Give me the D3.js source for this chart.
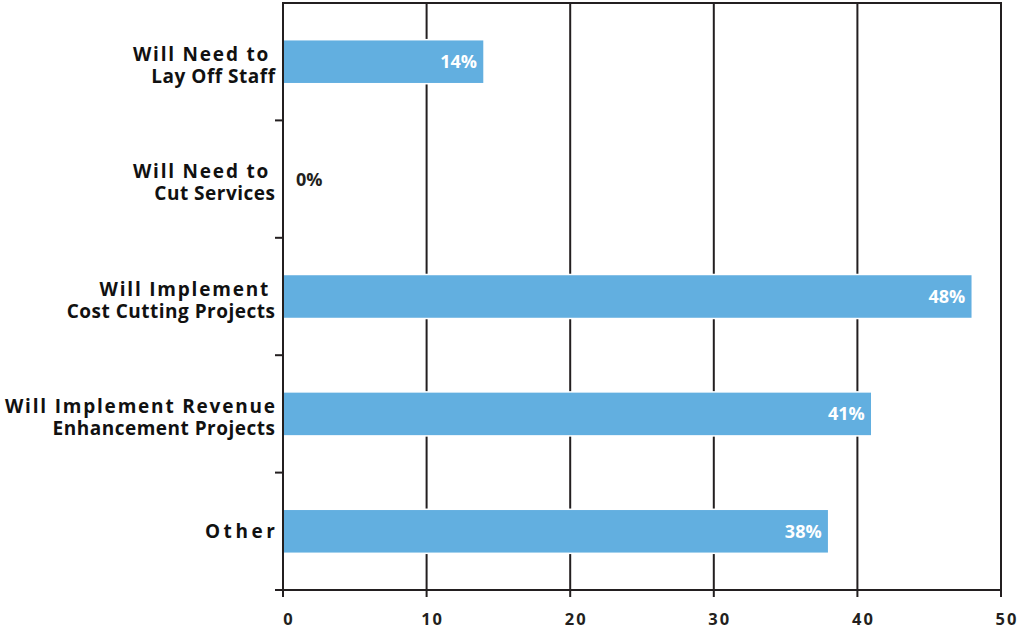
<!DOCTYPE html>
<html>
<head>
<meta charset="utf-8">
<script src="https://cdn.jsdelivr.net/npm/d3@7"></script>
<style>
  html, body { margin: 0; padding: 0; background: #fff; }
  svg { display: block; }
  text { font-family: "Open Sans", "Liberation Sans", sans-serif; font-weight: 700; }
</style>
</head>
<body>
<svg id="chart" width="1022" height="630"></svg>
<script>
// Survey responses (percent of respondents)
const categoryLines = [
  ["Will Need to ", "Lay Off Staff"],
  ["Will Need to ", "Cut Services"],
  ["Will Implement ", "Cost Cutting Projects"],
  ["Will Implement Revenue", "Enhancement Projects"],
  ["Other"]
];
const categories = categoryLines.map(l => l.join(" ").replace(/\s+/g, " ").trim());
const values = [14, 0, 48, 41, 38];
const xTickValues = [0, 10, 20, 30, 40, 50];

const W = 1022, H = 630;
const margin = { top: 3, right: 21, bottom: 40, left: 283 };
const ink = "#231f20";
const barColor = "#62afe0";

const svg = d3.select("#chart");

const x = d3.scaleLinear().domain([0, 50]).range([margin.left, W - margin.right]);
const y = d3.scaleBand().domain(categories).range([margin.top, H - margin.bottom]).padding(0);
const barH = y.bandwidth() * 0.375;

// vertical gridlines
svg.append("g")
  .selectAll("line")
  .data(xTickValues.filter(d => d > 0))
  .join("line")
  .attr("x1", d => x(d)).attr("x2", d => x(d))
  .attr("y1", margin.top).attr("y2", H - margin.bottom)
  .attr("stroke", ink).attr("stroke-width", 2);

// top frame line
svg.append("line")
  .attr("x1", margin.left - 1).attr("x2", W - margin.right + 1)
  .attr("y1", margin.top).attr("y2", margin.top)
  .attr("stroke", ink).attr("stroke-width", 2);

// bars
svg.append("g")
  .selectAll("rect")
  .data(categories.map((c, i) => ({ c, v: values[i] })))
  .join("rect")
  .attr("x", x(0))
  .attr("y", d => y(d.c) + (y.bandwidth() - barH) / 2)
  .attr("width", d => Math.max(0, x(d.v) - x(0)))
  .attr("height", barH)
  .attr("fill", barColor)
  .attr("stroke", d => d.v > 0 ? "#fff" : "none")
  .attr("stroke-width", 1.5);

// value labels
svg.append("g")
  .selectAll("text")
  .data(categories.map((c, i) => ({ c, v: values[i] })))
  .join("text")
  .attr("x", d => d.v > 0 ? x(d.v) - 7 : x(0) + 13)
  .attr("y", d => y(d.c) + y.bandwidth() / 2)
  .attr("dy", "0.36em")
  .attr("text-anchor", d => d.v > 0 ? "end" : "start")
  .attr("fill", d => d.v > 0 ? "#fff" : ink)
  .style("font-size", "18px")
  .text(d => d.v + "%");

// left axis
const yAxis = svg.append("g");
yAxis.append("line")
  .attr("x1", x(0)).attr("x2", x(0))
  .attr("y1", margin.top - 1).attr("y2", H - margin.bottom)
  .attr("stroke", ink).attr("stroke-width", 2);
yAxis.selectAll("line.tick")
  .data(categories)
  .join("line")
  .attr("class", "tick")
  .attr("x1", x(0) - 8).attr("x2", x(0))
  .attr("y1", d => y(d) + y.bandwidth()).attr("y2", d => y(d) + y.bandwidth())
  .attr("stroke", ink).attr("stroke-width", 2);

// category labels
const catG = svg.append("g");
categoryLines.forEach((lines, i) => {
  const cy = y(categories[i]) + y.bandwidth() / 2;
  const t = catG.append("text")
    .attr("text-anchor", "end")
    .attr("fill", "#111")
    .attr("xml:space", "preserve")
    .style("white-space", "pre")
    .style("font-size", "19px");
  lines.forEach((ln, j) => {
    const base = lines.length === 1 ? cy + 7 : cy - 1 + j * 22;
    const ls = lines.length === 1 ? 3.6 : (j === 0 ? 1.8 : 0.5);
    t.append("tspan")
      .attr("x", x(0) - 8 + ls)
      .attr("y", base)
      .style("letter-spacing", ls + "px")
      .text(ln);
  });
});

// bottom axis
const xAxis = svg.append("g");
xAxis.append("line")
  .attr("x1", x(0) - 8).attr("x2", x(50) + 1)
  .attr("y1", H - margin.bottom).attr("y2", H - margin.bottom)
  .attr("stroke", ink).attr("stroke-width", 2);
xAxis.selectAll("line.tick")
  .data(xTickValues)
  .join("line")
  .attr("class", "tick")
  .attr("x1", d => x(d)).attr("x2", d => x(d))
  .attr("y1", H - margin.bottom).attr("y2", H - margin.bottom + 7)
  .attr("stroke", ink).attr("stroke-width", 2);
xAxis.selectAll("text")
  .data(xTickValues)
  .join("text")
  .attr("x", d => x(d) + 6)
  .attr("y", H - 5)
  .attr("text-anchor", "middle")
  .attr("fill", ink)
  .style("font-size", "16.5px")
  .style("letter-spacing", "2px")
  .text(d => d);
</script>
</body>
</html>
